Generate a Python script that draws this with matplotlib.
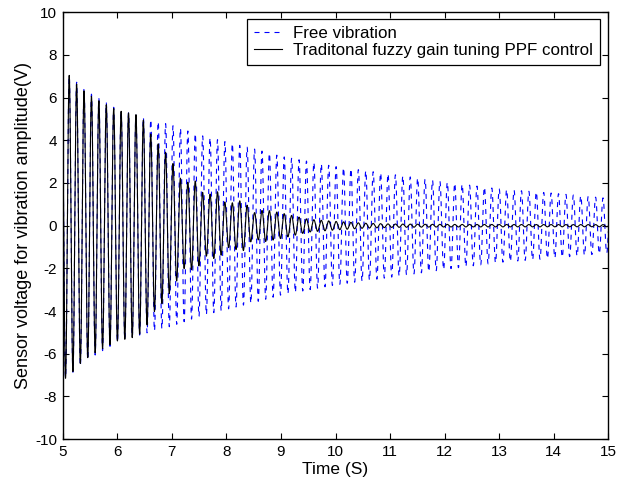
import numpy as np
import matplotlib
matplotlib.use("Agg")
import matplotlib.pyplot as plt

plt.rcParams['font.family'] = ['Liberation Sans', 'DejaVu Sans']
plt.rcParams['axes.unicode_minus'] = False

# Envelope knots (time s, amplitude V)
free_t = [5.0, 5.1, 5.5, 6.0, 6.5, 7.0, 7.5, 8.0, 8.5, 9.0, 10.0, 11.0, 12.0, 13.0, 14.0, 15.0]
free_a = [7.2, 7.05, 6.2, 5.45, 5.05, 4.7, 4.25, 3.92, 3.6, 3.25, 2.77, 2.42, 2.05, 1.72, 1.52, 1.28]

ctrl_t = [5.0, 5.1, 5.3, 5.5, 5.7, 6.0, 6.35, 6.5, 6.65, 6.8, 6.9, 7.05, 7.2, 7.45,
          7.6, 7.85, 8.0, 8.3, 8.5, 8.7, 9.0, 9.5, 10.0, 10.5, 11.0, 12.0, 15.0]
ctrl_a = [7.2, 7.1, 6.5, 6.1, 5.8, 5.4, 5.2, 4.9, 4.1, 3.7, 3.4, 2.8, 2.0, 2.1,
          1.4, 1.6, 1.0, 1.2, 0.6, 0.75, 0.6, 0.3, 0.2, 0.12, 0.08, 0.06, 0.05]

freq_hz = 7.36
first_peak = 5.12

x_ticks = [5, 6, 7, 8, 9, 10, 11, 12, 13, 14, 15]
y_ticks = [-10, -8, -6, -4, -2, 0, 2, 4, 6, 8, 10]

t = np.linspace(5, 15, 12001)
carrier = np.cos(2 * np.pi * freq_hz * (t - first_peak))
free_sig = np.interp(t, free_t, free_a) * carrier
ctrl_sig = np.interp(t, ctrl_t, ctrl_a) * carrier

fig = plt.figure(figsize=(6.35, 4.9), dpi=100)
ax = fig.add_axes([0.0987, 0.1037, 0.8593, 0.8714])

ax.plot(t, free_sig, color=(0, 0, 1), linestyle=(0, (4.5, 4.5)), linewidth=0.8,
        label='Free vibration')
ax.plot(t, ctrl_sig, color='black', linestyle='-', linewidth=0.8,
        label='Traditonal fuzzy gain tuning PPF control')

ax.set_xlim(5, 15)
ax.set_ylim(-10, 10)
ax.set_xticks(x_ticks)
ax.set_yticks(y_ticks)
ax.tick_params(direction='in', top=True, right=True, length=4, width=0.8,
               labelsize=11, pad=4)
for s in ax.spines.values():
    s.set_linewidth(1.0)
ax.set_xlabel('Time (S)', fontsize=12.5, labelpad=2)
ax.set_ylabel('Sensor voltage for vibration amplitude(V)', fontsize=13, labelpad=2)

leg = ax.legend(loc='upper right', bbox_to_anchor=(0.985, 0.984), fontsize=12.2,
                frameon=True, fancybox=False, framealpha=1, edgecolor='black',
                handlelength=1.65, handletextpad=0.7, borderpad=0.4, labelspacing=0.12,
                borderaxespad=0)
leg.get_frame().set_linewidth(0.9)

fig.savefig('out.png', dpi=100)
